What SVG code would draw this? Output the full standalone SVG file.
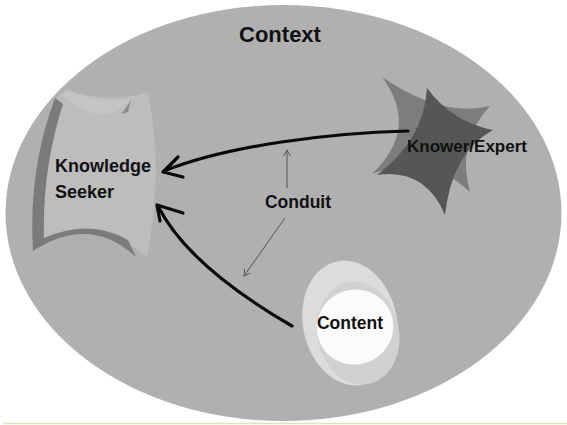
<svg xmlns="http://www.w3.org/2000/svg" width="567" height="425" viewBox="0 0 567 425">
<style>
.t{font-family:"Liberation Sans",Arial,sans-serif;font-weight:bold;fill:#111}
.thick{fill:none;stroke:#0a0a0a;stroke-width:3.2;stroke-linecap:round;stroke-linejoin:round}
.thin{fill:none;stroke:#555;stroke-width:1}
</style>
<defs>
<marker id="sm" markerWidth="10" markerHeight="10" refX="0" refY="0" viewBox="-8 -5 10 10" orient="auto" markerUnits="userSpaceOnUse">
<path d="M -6 -3.5 L 0 0 L -6 3.5" fill="none" stroke="#555" stroke-width="1"/>
</marker>
</defs>
<rect width="567" height="425" fill="#fff"/>
<g id="context">
<ellipse cx="283.5" cy="213" rx="278" ry="208" fill="#b0b0b0"/>
<text class="t" x="280" y="42" font-size="22" text-anchor="middle">Context</text>
</g>
<line x1="3" y1="423.5" x2="567" y2="423.5" stroke="#e0e5b5" stroke-width="1.5"/>
<g id="seeker">
<path d="M 66 90 Q 108 104 148 92 L 148 94 Q 164 170 147 257 Q 95 212 33 251 Q 30 170 58 96 Z" fill="#bdbdbd"/>
<path d="M 62 96 Q 105 132 132 98 L 148 94 Q 108 108 66 90 Z" fill="#c4c4c4"/>
<path d="M 55 98 Q 28 170 33 251 Q 90 214 136 257 L 128 240 Q 90 218 44 238 Q 42 170 63 104 Z" fill="#7b7b7b"/>
<path d="M 121 114 Q 128 106 131 99 L 128 112 Z" fill="#8a8a8a"/>
<text class="t" x="55" y="172" font-size="18">Knowledge</text>
<text class="t" x="55" y="198" font-size="18">Seeker</text>
</g>
<g id="knower">
<path d="M 382 77 Q 442 118 490 106 Q 456 142 470 192 Q 428 152 372 174 Q 420 128 382 77 Z" fill="#7d7d7d"/>
<path d="M 427 88 Q 452 122 493 130 Q 452 152 445 215 Q 425 168 377 175 Q 424 140 427 88 Z" fill="#565656"/>
<text class="t" x="407" y="152" font-size="17">Knower/Expert</text>
</g>
<g id="content">
<ellipse cx="350" cy="323" rx="47" ry="63" transform="rotate(-12 350 323)" fill="#dcdcdc"/>
<ellipse cx="358" cy="333" rx="41" ry="52" transform="rotate(-12 358 333)" fill="#d1d1d1"/>
<ellipse cx="355" cy="327" rx="38.5" ry="37.5" transform="rotate(-20 355 327)" fill="#fbfbfb"/>
<text class="t" x="350" y="329" font-size="17.5" text-anchor="middle">Content</text>
</g>
<g id="conduit">
<text class="t" x="298" y="208" font-size="17.5" text-anchor="middle">Conduit</text>
</g>
<g id="connectors">
<path class="thick" d="M 408 131 C 330 133 230 145 164 171"/>
<path class="thick" d="M 178 157 L 163 172 L 183 177"/>
<path class="thick" d="M 292 326 C 230 290 180 250 158 206"/>
<path class="thick" d="M 183 213 L 157 205 L 160 221"/>
<path class="thin" d="M 287 188 L 287 150" marker-end="url(#sm)"/>
<path class="thin" d="M 285 218 L 244 276" marker-end="url(#sm)"/>
</g>
</svg>
